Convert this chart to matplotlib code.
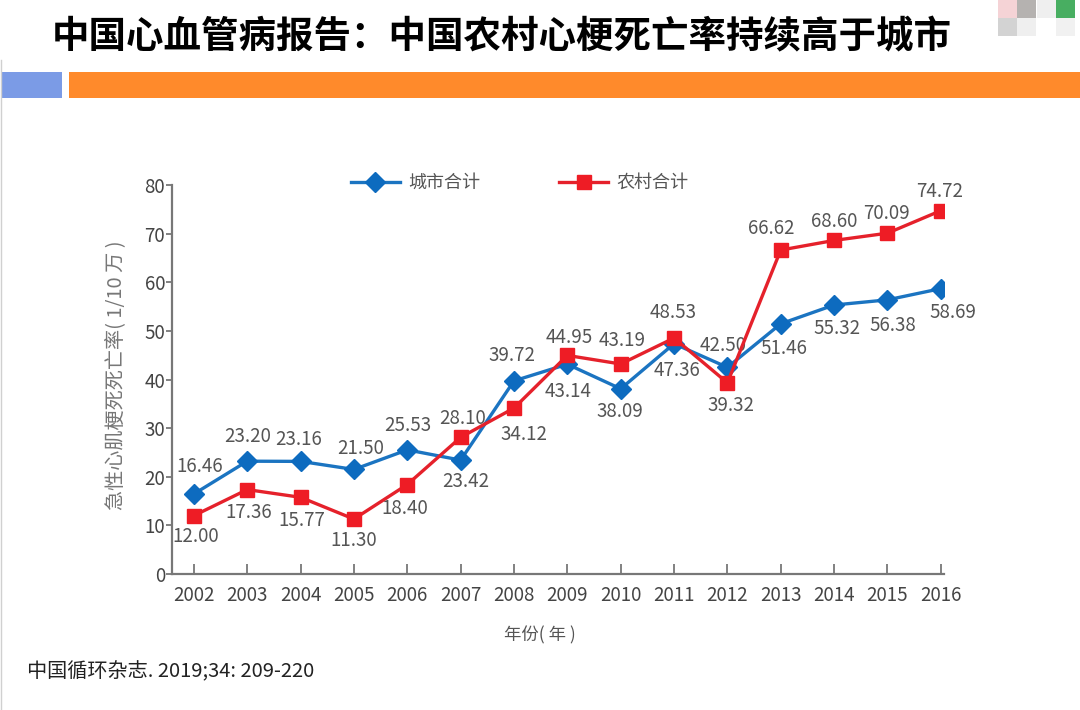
import matplotlib
matplotlib.use("Agg")
import matplotlib.pyplot as plt
from matplotlib.patches import Rectangle
from matplotlib.lines import Line2D

plt.rcParams['font.family'] = ['Noto Sans CJK SC', 'DejaVu Sans']

# ---- data ----
years = [2002, 2003, 2004, 2005, 2006, 2007, 2008, 2009, 2010, 2011, 2012, 2013, 2014, 2015, 2016]
city = [16.46, 23.20, 23.16, 21.50, 25.53, 23.42, 39.72, 43.14, 38.09, 47.36, 42.50, 51.46, 55.32, 56.38, 58.69]
rural = [12.00, 17.36, 15.77, 11.30, 18.40, 28.10, 34.12, 44.95, 43.19, 48.53, 39.32, 66.62, 68.60, 70.09, 74.72]
city_name = "城市合计"
rural_name = "农村合计"
yticks = [0, 10, 20, 30, 40, 50, 60, 70, 80]
title = "中国心血管病报告：中国农村心梗死亡率持续高于城市"
ylabel = "急性心肌梗死死亡率( 1/10 万 )"
xlabel = "年份( 年 )"
source = "中国循环杂志. 2019;34: 209-220"

# label offsets in pixels (dx, dy; dy positive = up)
city_off = [(6, 27), (0, 25), (-2, 22), (7, 21), (0, 24), (5, -21), (-2, 25), (1, -27),
            (-1, -23), (3, -27), (-4, 22), (3, -25), (3, -23), (5, -26), (12, -24)]
rural_off = [(2, -21), (1, -23), (1, -23), (0, -21), (-3, -24), (2, 19), (10, -26), (2, 18),
             (1, 23), (-1, 26), (4, -23), (-9, 22), (0, 19), (-1, 20), (-1, 19)]

W, H = 1080, 710
fig = plt.figure(figsize=(W / 100, H / 100), dpi=100)
fig.patch.set_facecolor('white')

def fx(px):
    return px / W

def fy(py):
    return 1 - py / H

# header
fig.text(fx(52), fy(37), title, fontsize=27, fontweight='heavy', color='black',
         ha='left', va='center')
fig.patches.append(Rectangle((fx(1), fy(98)), fx(61), (98 - 72) / H, transform=fig.transFigure,
                             facecolor='#7b9be6', edgecolor='none'))
fig.patches.append(Rectangle((fx(69), fy(98)), fx(1011), (98 - 72) / H, transform=fig.transFigure,
                             facecolor='#ff8a2b', edgecolor='none'))
fig.lines.append(Line2D([fx(1), fx(1)], [fy(60), 0], transform=fig.transFigure,
                        color='#d0d0d0', lw=1))
# faint watermark squares top-right
for (x0, y0, c) in [(998, 0, '#f3c9cc'), (1017, 0, '#a39f9c'), (1037, 0, '#ececec'),
                    (1056, 0, '#1a9a3a'), (998, 18, '#c8c8c8'), (1017, 18, '#ececec'),
                    (1056, 18, '#eeeeee')]:
    fig.patches.append(Rectangle((fx(x0), fy(y0 + 18)), fx(19), 18 / H, transform=fig.transFigure,
                                 facecolor=c, edgecolor='none', alpha=0.8))

# axes
ax = fig.add_axes([fx(172), fy(574), (944 - 172) / W, (574 - 185) / H])
ax.set_xlim(2001.59, 2016.06)
ax.set_ylim(0, 80)

blue = '#1b74c1'
red = '#e5212b'
ax.plot(years, city, color=blue, lw=2.4, marker='D', markersize=10, markerfacecolor='#0d6bbf',
        markeredgecolor='#0d6bbf', zorder=3)
ax.plot(years, rural, color=red, lw=2.4, marker='s', markersize=9.5, markerfacecolor='#ee1c25',
        markeredgecolor='#ee1c25', zorder=4)

lab_col = '#555555'
for x, v, (dx, dy) in zip(years, city, city_off):
    ax.annotate(f"{v:.2f}", (x, v), xytext=(dx * 0.72, dy * 0.72), textcoords='offset points',
                ha='center', va='center', fontsize=13.5, color=lab_col)
for x, v, (dx, dy) in zip(years, rural, rural_off):
    ax.annotate(f"{v:.2f}", (x, v), xytext=(dx * 0.72, dy * 0.72), textcoords='offset points',
                ha='center', va='center', fontsize=13.5, color=lab_col)

for s in ['top', 'right']:
    ax.spines[s].set_visible(False)
for s in ['left', 'bottom']:
    ax.spines[s].set_color('#777777')
    ax.spines[s].set_linewidth(1.6)

ax.set_xticks(years)
ax.set_xticklabels([str(y) for y in years])
ax.set_yticks(yticks)
ax.set_yticklabels([str(t) for t in yticks])
ax.tick_params(axis='x', direction='in', length=7, width=1.3, color='#777777', pad=8,
               labelsize=13.5, labelcolor='#444444')
ax.tick_params(axis='y', direction='out', length=4, width=1.3, color='#777777', pad=1,
               labelsize=13.5, labelcolor='#444444')

fig.text(fx(116), fy(375), ylabel, rotation=90, ha='center', va='center', fontsize=14.5,
         color='#777777')
fig.text(fx(540), fy(635), xlabel, ha='center', va='center', fontsize=12.5, color='#555555')
fig.text(fx(27), fy(672), source, ha='left', va='center', fontsize=14.5, color='#222222')

# legend
h1 = Line2D([], [], color=blue, lw=2.4, marker='D', markersize=10, markerfacecolor='#0d6bbf',
            markeredgecolor='#0d6bbf')
h2 = Line2D([], [], color=red, lw=2.4, marker='s', markersize=9.5, markerfacecolor='#ee1c25',
            markeredgecolor='#ee1c25')
fig.legend([h1, h2], [city_name, rural_name], loc='center left', bbox_to_anchor=(fx(351), fy(183)),
           ncol=2, frameon=False, fontsize=13, handlelength=2.7, handletextpad=0.45,
           columnspacing=4.4, borderpad=0, borderaxespad=0, labelcolor='#555555')

fig.savefig('out.png', dpi=100, facecolor='white')
